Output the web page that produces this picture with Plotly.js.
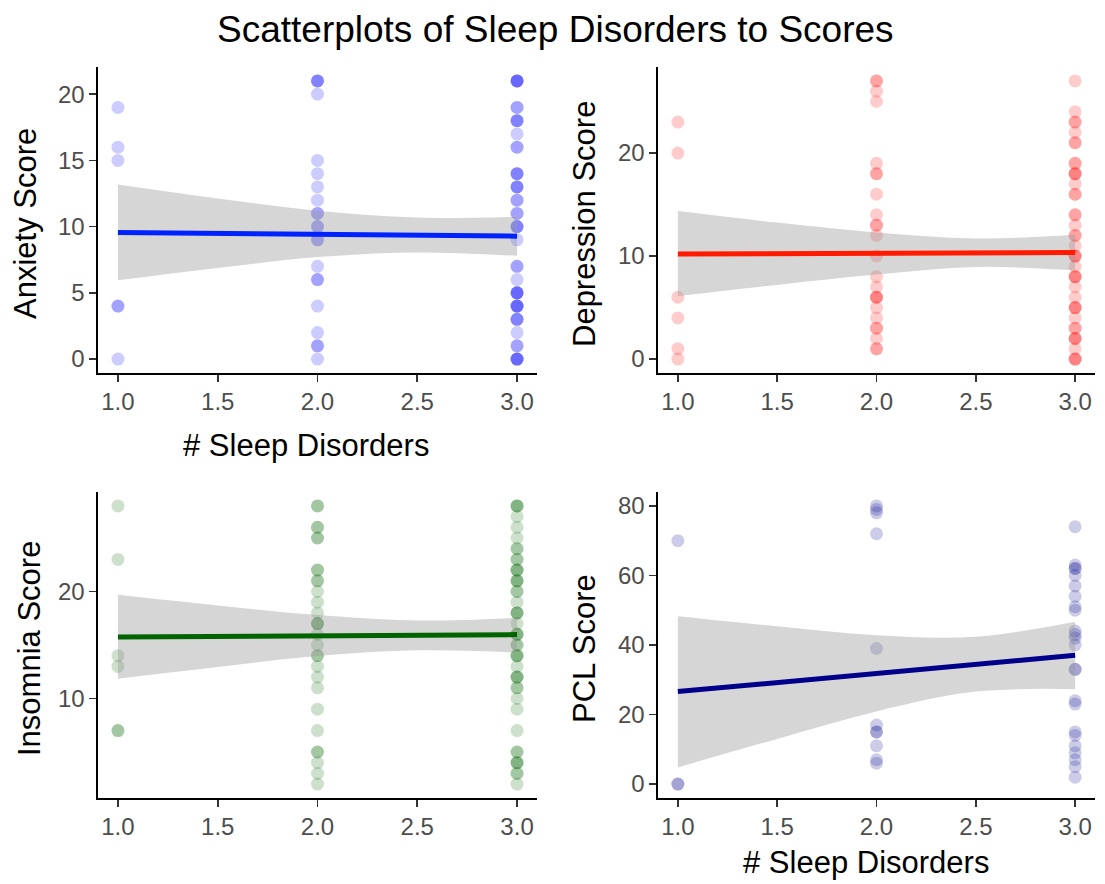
<!DOCTYPE html>
<html>
<head>
<meta charset="utf-8">
<script src="https://cdn.plot.ly/plotly-3.0.1.min.js"></script>
<style>html,body{margin:0;padding:0;background:#fff;}#chart{width:1105px;height:884px;}</style>
</head>
<body>
<div id="chart"></div>
<script>
// ---- data ----
const disorderTicks = [1, 1.5, 2, 2.5, 3];
const disorderTickText = ['1.0', '1.5', '2.0', '2.5', '3.0'];

// scores per number of sleep disorders (1, 2, 3)
const anxiety1 = [19, 16, 15, 4, 4, 0];
const anxiety2 = [21, 21, 21, 20, 15, 14, 13, 12, 11, 11, 10, 10, 9, 9, 7, 6, 6, 4, 2, 1, 1, 0];
const anxiety3 = [21, 21, 21, 21, 19, 19, 18, 18, 18, 17, 16, 16, 14, 14, 14, 13, 13, 13, 12, 12, 11, 11, 10, 10, 10, 9, 7, 7, 6, 5, 5, 5, 5, 4, 4, 4, 4, 3, 3, 3, 2, 1, 1, 0, 0, 0, 0];

const depression1 = [23, 20, 6, 4, 1, 0];
const depression2 = [27, 27, 26, 25, 19, 18, 18, 16, 14, 13, 13, 12, 10, 8, 7, 6, 6, 6, 5, 4, 3, 3, 2, 1, 1];
const depression3 = [27, 24, 23, 23, 22, 21, 21, 19, 19, 18, 18, 18, 17, 16, 16, 14, 14, 13, 12, 12, 11, 10, 10, 10, 9, 8, 8, 8, 7, 6, 5, 5, 5, 4, 3, 3, 2, 2, 2, 1, 0, 0, 0];

const insomnia1 = [28, 23, 14, 13, 7, 7];
const insomnia2 = [28, 28, 26, 26, 25, 25, 22, 22, 21, 21, 20, 19, 18, 17, 17, 17, 16, 15, 14, 14, 13, 12, 11, 9, 7, 5, 5, 4, 3, 2];
const insomnia3 = [28, 28, 28, 27, 26, 25, 24, 24, 23, 23, 22, 22, 22, 21, 21, 21, 20, 20, 19, 18, 18, 18, 17, 16, 16, 16, 15, 15, 14, 14, 14, 13, 12, 12, 12, 11, 11, 10, 9, 7, 5, 5, 4, 4, 4, 3, 3, 2];

const pcl1 = [70, 0, 0];
const pcl2 = [80, 79, 78, 72, 39, 17, 15, 15, 11, 7, 6];
const pcl3 = [74, 63, 62, 62, 60, 57, 54, 51, 50, 44, 43, 42, 40, 33, 33, 24, 23, 15, 14, 11, 9, 7, 5, 2];

// fitted lines (value at x = 1 and x = 3) and confidence bands at bandX
const fitX = [1, 3];
const bandX = [1, 1.5, 2, 2.5, 3];
const anxietyFit = [9.56, 9.28];
const anxietyUpper = [13.18, 12.13, 11.2, 10.68, 10.75];
const anxietyLower = [5.95, 6.88, 7.7, 8.05, 7.8];
const depressionFit = [10.19, 10.35];
const depressionUpper = [14.37, 13.25, 12.28, 11.7, 12.06];
const depressionLower = [6.1, 7.2, 8.2, 8.94, 8.62];
const insomniaFit = [15.75, 15.97];
const insomniaUpper = [19.7, 18.7, 17.8, 17.3, 17.54];
const insomniaLower = [11.85, 12.95, 13.97, 14.5, 14.3];
const pclFit = [26.6, 37.06];
const pclUpper = [48.3, 45.4, 42.8, 42.4, 46.7];
const pclLower = [4.8, 13.0, 20.9, 26.6, 27.3];

// ---- drawing ----
const FONT = 'Liberation Sans, Arial, Helvetica, sans-serif';
const W = 1105, H = 884;

function groupXY(groups) {
  const xs = [], ys = [];
  groups.forEach((g, i) => g.forEach(v => { xs.push(i + 1); ys.push(v); }));
  return {x: xs, y: ys};
}

const panels = [
  {groups: [anxiety1, anxiety2, anxiety3], fit: anxietyFit, up: anxietyUpper, lo: anxietyLower,
   color: '#0000FF', line: '#0022FF', ax: ''},
  {groups: [depression1, depression2, depression3], fit: depressionFit, up: depressionUpper, lo: depressionLower,
   color: '#FF0000', line: '#FF1A00', ax: '2'},
  {groups: [insomnia1, insomnia2, insomnia3], fit: insomniaFit, up: insomniaUpper, lo: insomniaLower,
   color: '#006400', line: '#006400', ax: '3'},
  {groups: [pcl1, pcl2, pcl3], fit: pclFit, up: pclUpper, lo: pclLower,
   color: '#00008B', line: '#00008B', ax: '4'}
];

const traces = [];
panels.forEach(p => {
  const xa = 'x' + p.ax, ya = 'y' + p.ax;
  const pts = groupXY(p.groups);
  traces.push({type: 'scatter', mode: 'markers', x: pts.x, y: pts.y, xaxis: xa, yaxis: ya,
    marker: {color: p.color, opacity: 0.2, size: 13, line: {width: 0}}, hoverinfo: 'x+y'});
  traces.push({type: 'scatter', mode: 'lines', x: bandX, y: p.lo, xaxis: xa, yaxis: ya,
    line: {width: 0, shape: 'spline', color: 'rgba(0,0,0,0)'}, hoverinfo: 'skip'});
  traces.push({type: 'scatter', mode: 'lines', x: bandX, y: p.up, xaxis: xa, yaxis: ya,
    fill: 'tonexty', fillcolor: 'rgba(153,153,153,0.4)',
    line: {width: 0, shape: 'spline', color: 'rgba(0,0,0,0)'}, hoverinfo: 'skip'});
  traces.push({type: 'scatter', mode: 'lines', x: fitX, y: p.fit, xaxis: xa, yaxis: ya,
    line: {width: 5, color: p.line}, hoverinfo: 'skip'});
});

const px2x = v => v / W;
const px2y = v => 1 - v / H;
const colL = [px2x(98), px2x(537)], colR = [px2x(658), px2x(1095)];
const rowT = [px2y(373), px2y(67)], rowB = [px2y(798), px2y(492)];

function xAxis(domain, anchor) {
  return {domain: domain, anchor: anchor, range: [0.9, 3.1], tickvals: disorderTicks, ticktext: disorderTickText,
    showline: true, linecolor: '#000', linewidth: 1.6, ticks: 'outside', ticklen: 7, tickwidth: 1.6, tickcolor: '#333',
    showgrid: false, zeroline: false, tickfont: {family: FONT, size: 24, color: '#4D4D4D'}, fixedrange: true};
}
function yAxis(domain, anchor, range, tickvals) {
  return {domain: domain, anchor: anchor, range: range, tickvals: tickvals,
    showline: true, linecolor: '#000', linewidth: 1.6, ticks: 'outside', ticklen: 7, tickwidth: 1.6, tickcolor: '#333',
    showgrid: false, zeroline: false, tickfont: {family: FONT, size: 24, color: '#4D4D4D'}, fixedrange: true};
}

function ann(text, xpx, ypx, size, angle) {
  return {text: text, xref: 'paper', yref: 'paper', x: px2x(xpx), y: px2y(ypx), xanchor: 'center', yanchor: 'middle',
    showarrow: false, textangle: angle || 0, font: {family: FONT, size: size, color: '#000'}};
}

const layout = {
  width: W, height: H, margin: {l: 0, r: 0, t: 0, b: 0},
  paper_bgcolor: '#fff', plot_bgcolor: '#fff', showlegend: false,
  font: {family: FONT},
  xaxis: xAxis(colL, 'y'), yaxis: yAxis(rowT, 'x', [-1.05, 22.05], [0, 5, 10, 15, 20]),
  xaxis2: xAxis(colR, 'y2'), yaxis2: yAxis(rowT, 'x2', [-1.35, 28.35], [0, 10, 20]),
  xaxis3: xAxis(colL, 'y3'), yaxis3: yAxis(rowB, 'x3', [0.7, 29.3], [10, 20]),
  xaxis4: xAxis(colR, 'y4'), yaxis4: yAxis(rowB, 'x4', [-4, 84], [0, 20, 40, 60, 80]),
  annotations: [
    ann('Scatterplots of Sleep Disorders to Scores', 555, 30, 37),
    ann('Anxiety Score', 25, 224, 31, -90),
    ann('Depression Score', 584, 224, 31, -90),
    ann('Insomnia Score', 29, 649, 31, -90),
    ann('PCL Score', 584, 649, 31, -90),
    ann('# Sleep Disorders', 306, 445, 31),
    ann('# Sleep Disorders', 866, 862, 31)
  ]
};

Plotly.newPlot('chart', traces, layout, {displayModeBar: false, staticPlot: true});
</script>
</body>
</html>
